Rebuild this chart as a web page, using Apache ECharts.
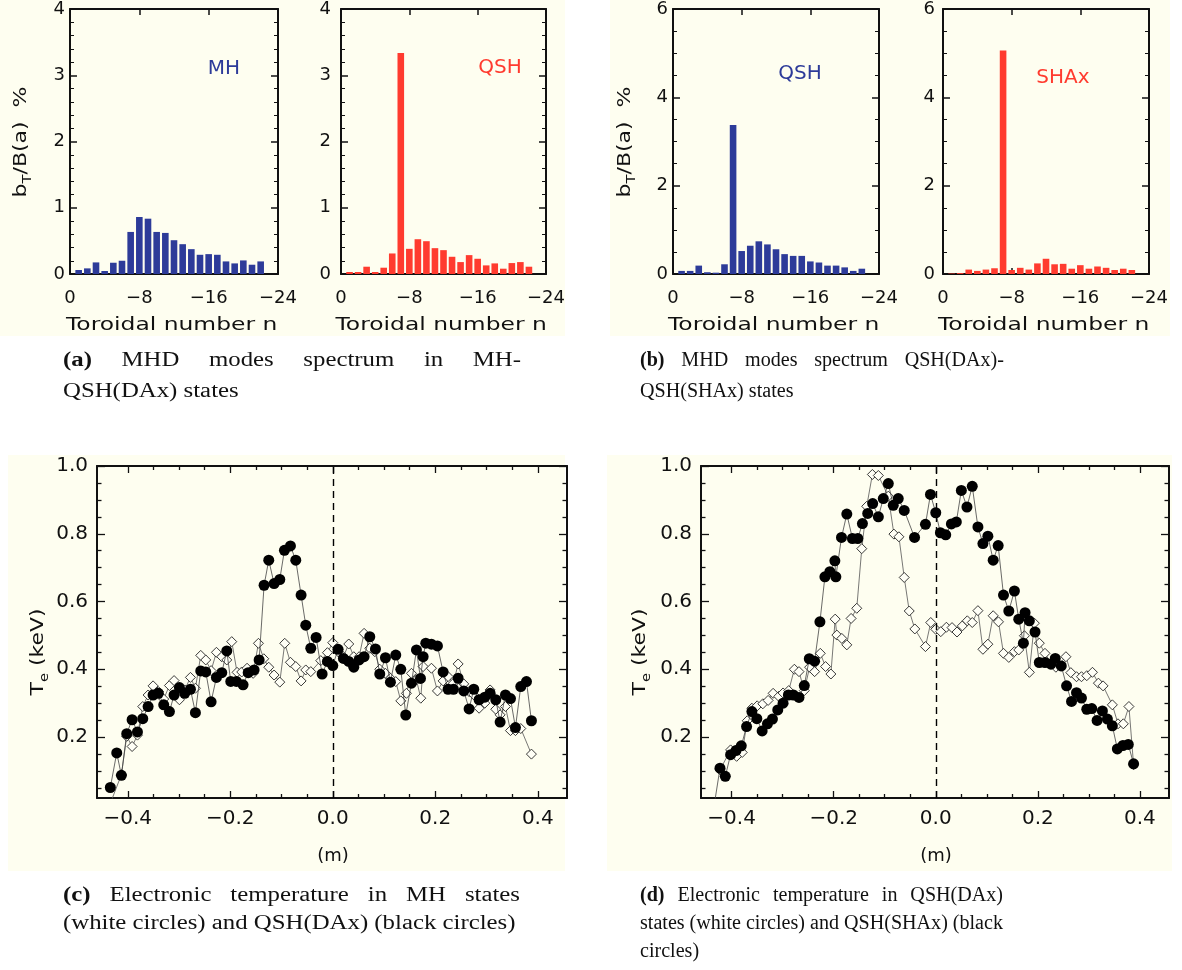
<!DOCTYPE html>
<html><head><meta charset="utf-8">
<script src="https://cdn.jsdelivr.net/npm/echarts@6/dist/echarts.min.js"></script>
<style>html,body{margin:0;padding:0;background:#fff}#c{width:1182px;height:970px}</style>
</head><body><div id="c"></div>
<script>
// ---------------- data ----------------
const modeN = [-1,-2,-3,-4,-5,-6,-7,-8,-9,-10,-11,-12,-13,-14,-15,-16,-17,-18,-19,-20,-21,-22];
const specMH   = [0.06,0.085,0.175,0.045,0.17,0.2,0.635,0.86,0.835,0.635,0.62,0.51,0.45,0.375,0.29,0.3,0.29,0.19,0.16,0.205,0.14,0.19];
const specQSHa = [0.03,0.03,0.11,0.03,0.095,0.31,3.335,0.38,0.525,0.495,0.39,0.36,0.26,0.18,0.285,0.23,0.13,0.16,0.08,0.165,0.18,0.11];
const specQSHb = [0.07,0.07,0.19,0.04,0.03,0.22,3.375,0.52,0.64,0.74,0.67,0.56,0.45,0.41,0.41,0.285,0.26,0.19,0.19,0.15,0.07,0.12];
const specSHAx = [0.01,0.02,0.1,0.07,0.1,0.13,5.06,0.09,0.14,0.1,0.24,0.345,0.22,0.23,0.12,0.2,0.12,0.17,0.14,0.09,0.12,0.09];
const barTicksX = [-24,-16,-8,0];

const teMH = [[-0.435,0.0],[-0.4124,0.089],[-0.402,0.202],[-0.3915,0.172],[-0.3811,0.2056],[-0.3707,0.29],[-0.3603,0.324],[-0.3506,0.351],[-0.3402,0.334],[-0.3298,0.312],[-0.3187,0.352],[-0.3096,0.3666],[-0.2992,0.31],[-0.2888,0.339],[-0.2777,0.376],[-0.268,0.344],[-0.2576,0.441],[-0.2478,0.4275],[-0.2374,0.396],[-0.227,0.45],[-0.2166,0.437],[-0.2068,0.4275],[-0.1971,0.4815],[-0.1867,0.391],[-0.1776,0.392],[-0.1672,0.403],[-0.1554,0.388],[-0.145,0.4766],[-0.1346,0.431],[-0.1249,0.406],[-0.1145,0.383],[-0.1034,0.362],[-0.0937,0.4766],[-0.0826,0.4206],[-0.0722,0.408],[-0.0618,0.3656],[-0.0527,0.398],[-0.0429,0.393],[-0.0234,0.4255],[-0.0104,0.449],[0.0,0.4785],[0.0104,0.452],[0.0208,0.437],[0.0312,0.4746],[0.041,0.437],[0.0514,0.437],[0.0611,0.506],[0.0722,0.462],[0.082,0.452],[0.0917,0.4],[0.1028,0.388],[0.1125,0.3735],[0.1229,0.3636],[0.1327,0.3067],[0.1437,0.329],[0.1535,0.388],[0.1633,0.3686],[0.1717,0.3146],[0.1763,0.408],[0.1925,0.403],[0.2042,0.336],[0.2153,0.3656],[0.225,0.3784],[0.2354,0.3588],[0.2446,0.4157],[0.2556,0.3568],[0.266,0.334],[0.2751,0.3244],[0.2855,0.285],[0.2966,0.3],[0.307,0.339],[0.318,0.282],[0.3265,0.2655],[0.3369,0.29],[0.3467,0.219],[0.3564,0.219],[0.3668,0.225],[0.3876,0.1496]];
const teDAxC = [[-0.434,0.051],[-0.4215,0.153],[-0.4124,0.087],[-0.402,0.21],[-0.3915,0.251],[-0.3811,0.215],[-0.3707,0.254],[-0.3603,0.29],[-0.3506,0.324],[-0.3402,0.329],[-0.3298,0.295],[-0.3187,0.275],[-0.3096,0.324],[-0.2992,0.346],[-0.2888,0.329],[-0.2777,0.341],[-0.268,0.272],[-0.2576,0.395],[-0.2478,0.392],[-0.2374,0.304],[-0.227,0.376],[-0.2166,0.39],[-0.2068,0.454],[-0.199,0.364],[-0.188,0.364],[-0.175,0.354],[-0.165,0.39],[-0.1535,0.398],[-0.1437,0.4275],[-0.134,0.648],[-0.1249,0.722],[-0.1145,0.653],[-0.1034,0.665],[-0.0943,0.751],[-0.0826,0.764],[-0.0722,0.722],[-0.0618,0.619],[-0.0527,0.53],[-0.0429,0.462],[-0.0325,0.494],[-0.0208,0.386],[-0.0104,0.423],[0.0,0.411],[0.0104,0.459],[0.0208,0.432],[0.0312,0.423],[0.041,0.406],[0.0514,0.4275],[0.0611,0.437],[0.0722,0.496],[0.0833,0.46],[0.0917,0.386],[0.1028,0.434],[0.1125,0.362],[0.1229,0.442],[0.1327,0.4],[0.1424,0.265],[0.1535,0.359],[0.1633,0.457],[0.1711,0.373],[0.1763,0.437],[0.1815,0.477],[0.1925,0.474],[0.2042,0.469],[0.2153,0.392],[0.225,0.341],[0.2354,0.341],[0.2446,0.3735],[0.2556,0.336],[0.266,0.283],[0.2751,0.341],[0.2855,0.31],[0.2966,0.3175],[0.307,0.329],[0.318,0.31],[0.3265,0.244],[0.3369,0.324],[0.3467,0.3136],[0.3564,0.228],[0.3668,0.349],[0.3779,0.3636],[0.3876,0.248]];
const teDAxD = [[-0.4228,0.103],[-0.402,0.162],[-0.3902,0.143],[-0.3792,0.1545],[-0.3694,0.248],[-0.3603,0.285],[-0.3499,0.292],[-0.3389,0.298],[-0.3285,0.308],[-0.3187,0.329],[-0.3076,0.32],[-0.2992,0.33],[-0.2881,0.337],[-0.2771,0.4],[-0.268,0.393],[-0.2576,0.337],[-0.2472,0.406],[-0.2374,0.393],[-0.2263,0.447],[-0.2159,0.408],[-0.2055,0.386],[-0.1971,0.548],[-0.1938,0.501],[-0.1841,0.491],[-0.1743,0.472],[-0.1659,0.55],[-0.1548,0.58],[-0.145,0.756],[-0.1353,0.881],[-0.1242,0.975],[-0.1125,0.972],[-0.093,0.911],[-0.082,0.799],[-0.0722,0.791],[-0.0618,0.671],[-0.052,0.572],[-0.041,0.519],[-0.0202,0.467],[-0.0098,0.538],[0.0,0.518],[0.0098,0.511],[0.0208,0.524],[0.0319,0.523],[0.0416,0.51],[0.052,0.528],[0.0618,0.543],[0.0715,0.538],[0.0826,0.573],[0.0924,0.459],[0.1021,0.474],[0.1125,0.558],[0.1229,0.54],[0.1327,0.447],[0.1431,0.435],[0.1541,0.452],[0.1626,0.457],[0.1737,0.499],[0.1834,0.391],[0.1932,0.536],[0.2029,0.477],[0.214,0.447],[0.2257,0.418],[0.2354,0.406],[0.255,0.437],[0.2647,0.39],[0.2758,0.378],[0.2855,0.378],[0.2959,0.381],[0.307,0.391],[0.3187,0.359],[0.3278,0.351],[0.346,0.295],[0.3571,0.239],[0.3675,0.239],[0.3785,0.29],[0.3876,0.118]];
const teSHAx = [[-0.434,0.0],[-0.4228,0.108],[-0.4124,0.084],[-0.402,0.148],[-0.3915,0.16],[-0.3811,0.174],[-0.3707,0.231],[-0.3603,0.275],[-0.3506,0.254],[-0.3402,0.218],[-0.3298,0.239],[-0.32,0.253],[-0.3096,0.28],[-0.2992,0.3],[-0.2888,0.324],[-0.279,0.324],[-0.268,0.317],[-0.2576,0.352],[-0.2478,0.431],[-0.2374,0.424],[-0.227,0.54],[-0.2172,0.673],[-0.2075,0.688],[-0.1977,0.72],[-0.1958,0.673],[-0.1847,0.789],[-0.1743,0.858],[-0.1633,0.786],[-0.1528,0.786],[-0.1437,0.83],[-0.1333,0.86],[-0.1236,0.889],[-0.1125,0.85],[-0.1028,0.904],[-0.093,0.948],[-0.0833,0.884],[-0.0735,0.904],[-0.0618,0.869],[-0.0416,0.789],[-0.0202,0.828],[-0.0104,0.916],[0.0,0.862],[0.0091,0.803],[0.0195,0.797],[0.0306,0.829],[0.0403,0.835],[0.0501,0.928],[0.0611,0.879],[0.0715,0.94],[0.0826,0.82],[0.0924,0.771],[0.1021,0.793],[0.1125,0.722],[0.1223,0.765],[0.1327,0.619],[0.1431,0.572],[0.1541,0.631],[0.1626,0.548],[0.1717,0.477],[0.175,0.567],[0.1834,0.543],[0.1945,0.51],[0.2029,0.42],[0.214,0.42],[0.2257,0.415],[0.2341,0.432],[0.2459,0.41],[0.2563,0.351],[0.266,0.305],[0.2758,0.331],[0.2855,0.315],[0.2959,0.282],[0.3057,0.284],[0.3161,0.249],[0.3265,0.277],[0.3363,0.253],[0.346,0.233],[0.3558,0.165],[0.3668,0.175],[0.3772,0.178],[0.3876,0.121]];

const teTicksX = [-0.4,-0.2,0,0.2,0.4];
const teMinorX = [-0.35,-0.3,-0.25,-0.15,-0.1,-0.05,0.05,0.1,0.15,0.25,0.3,0.35];
const teTicksY = [0.2,0.4,0.6,0.8,1.0];
const teMinorY = [0.05,0.1,0.15,0.25,0.3,0.35,0.45,0.5,0.55,0.65,0.7,0.75,0.85,0.9,0.95];

// ---------------- style ----------------
const CREAM = '#fefef0', BLUE = '#2d3b99', RED = '#ff3b2f', AX = '#111';
const SANS = '"DejaVu Sans"', SERIF = '"Liberation Serif"';
const XMIN = -0.46, XMAX = 0.457, YMIN = 0.02, YMAX = 1.0;

const chart = echarts.init(document.getElementById('c'), null, {renderer: 'canvas'});
const grids = [], xAxes = [], yAxes = [], series = [], graphics = [];

const fmtN = v => v === 0 ? '0' : '\u2212' + Math.abs(v);
const fmtX = v => (v < -1e-9 ? '\u2212' : '') + Math.abs(v).toFixed(1);
const fmtY = v => v.toFixed(1);

const barPanels = [
  {left:70,  width:208, ymax:4, yint:1, ysplit:5, ym:5,  vals:specMH,   color:BLUE},
  {left:341, width:205, ymax:4, yint:1, ysplit:5, ym:10, vals:specQSHa, color:RED},
  {left:673, width:206, ymax:6, yint:2, ysplit:4, ym:5,  vals:specQSHb, color:BLUE},
  {left:943, width:206, ymax:6, yint:2, ysplit:4, ym:8,  vals:specSHAx, color:RED}
];
barPanels.forEach((p, i) => {
  grids.push({left:p.left, top:7, width:p.width, height:267});
  const xb = xAxes.length;
  ['bottom','top'].forEach(pos => xAxes.push({
    type:'value', gridIndex:i, position:pos, min:barTicksX[0], max:barTicksX[3], interval:8, inverse:true,
    axisLine:{show:true, onZero:false, lineStyle:{color:AX, width:2}},
    axisTick:{show:true, inside:true, length:6, lineStyle:{color:AX, width:1.5}},
    axisLabel:{show:pos==='bottom', color:AX, fontFamily:SANS, fontSize:18, margin:15, formatter:fmtN, showMinLabel:true, showMaxLabel:true},
    splitLine:{show:false}
  }));
  const yb = yAxes.length;
  ['left','right'].forEach(pos => yAxes.push({
    type:'value', gridIndex:i, position:pos, min:0, max:p.ymax, interval:p.yint,
    axisLine:{show:true, onZero:false, lineStyle:{color:AX, width:2}},
    axisTick:{show:true, inside:true, length:7, lineStyle:{color:AX, width:1.5}},
    minorTick:{show:true, splitNumber:p.ysplit, length:4, lineStyle:{color:AX, width:1}},
    axisLabel:{show:pos==='left', color:AX, fontFamily:SANS, fontSize:18, margin:p.ym},
    splitLine:{show:false}, minorSplitLine:{show:false}
  }));
  series.push({type:'bar', xAxisIndex:xb, yAxisIndex:yb, barWidth:6.6, silent:true,
    itemStyle:{color:p.color}, data: modeN.map((n, k) => [n, p.vals[k]])});
});

function mkX(gi, pos, major, line) {
  return {type:'value', gridIndex:gi, position:pos, min:XMIN, max:XMAX,
    axisLine:{show:line, onZero:false, lineStyle:{color:AX, width:2}},
    axisTick:{show:true, inside:true, length:major?7:4, customValues: major?teTicksX:teMinorX, lineStyle:{color:AX, width:1.3}},
    axisLabel:{show: pos==='bottom' && major, customValues: teTicksX, formatter: fmtX, color:AX, fontFamily:SANS, fontSize:20, margin:11},
    splitLine:{show:false}};
}
function mkY(gi, pos, major, line) {
  return {type:'value', gridIndex:gi, position:pos, min:YMIN, max:YMAX,
    axisLine:{show:line, onZero:false, lineStyle:{color:AX, width:2}},
    axisTick:{show:true, inside:true, length:major?8:4.5, customValues: major?teTicksY:teMinorY, lineStyle:{color:AX, width:1.3}},
    axisLabel:{show: pos==='left' && major, customValues: teTicksY, formatter: fmtY, color:AX, fontFamily:SANS, fontSize:20, margin:9},
    splitLine:{show:false}};
}
const tePanels = [
  {left:97,  width:470, white:teMH,   black:teDAxC},
  {left:701, width:468, white:teDAxD, black:teSHAx}
];
tePanels.forEach(p => {
  const gi = grids.length;
  grids.push({left:p.left, top:466, width:p.width, height:332});
  const xd = xAxes.length;
  xAxes.push(mkX(gi,'bottom',true,true), mkX(gi,'bottom',false,false), mkX(gi,'top',true,true), mkX(gi,'top',false,false));
  const yd = yAxes.length;
  yAxes.push(mkY(gi,'left',true,true), mkY(gi,'left',false,false), mkY(gi,'right',true,true), mkY(gi,'right',false,false));
  series.push({type:'line', xAxisIndex:xd, yAxisIndex:yd, data:p.white, symbol:'diamond', symbolSize:10,
    showAllSymbol:true, clip:true, silent:true, z:3,
    lineStyle:{color:'#555', width:0.8}, itemStyle:{color:'#fffff6', borderColor:'#222', borderWidth:0.9},
    markLine:{silent:true, symbol:['none','none'], label:{show:false},
      lineStyle:{color:'#000', type:[7,5], width:1.4}, data:[{xAxis:0}]}});
  series.push({type:'line', xAxisIndex:xd, yAxisIndex:yd, data:p.black, symbol:'circle', symbolSize:11,
    showAllSymbol:true, clip:true, silent:true, z:4,
    lineStyle:{color:'#444', width:0.8}, itemStyle:{color:'#000'}});
});

// ---------------- graphics ----------------
function rect(x, y, w, h) { return {type:'rect', z:-100, silent:true, shape:{x, y, width:w, height:h}, style:{fill:CREAM}}; }
graphics.push(rect(0,0,565,336), rect(610,0,560,336), rect(8,455,557,416), rect(607,455,565,416));

function txt(x, y, text, o) {
  o = o || {};
  return {type:'text', x, y, rotation:o.rot||0, scaleX:o.sx||1, z:50, silent:true,
    style:{text, fill:o.color||AX, font:o.font, rich:o.rich,
      align:o.align||'center', verticalAlign:'middle', textAlign:o.align||'center', textVerticalAlign:'middle'}};
}
// panel labels
graphics.push(txt(224, 69, 'MH',   {font:'20px '+SANS, color:BLUE}));
graphics.push(txt(500, 68, 'QSH',  {font:'20px '+SANS, color:RED}));
graphics.push(txt(800, 74, 'QSH',  {font:'20px '+SANS, color:BLUE}));
graphics.push(txt(1063, 78, 'SHAx',{font:'20px '+SANS, color:RED}));
// x titles
[174, 443.5, 776, 1046].forEach(cx => graphics.push(txt(cx - 108, 325, 'Toroidal number n', {font:'18px '+SANS, sx:1.3, align:'left'})));
// y titles of spectra
const richB = {m:{fontSize:18, fontFamily:'DejaVu Sans', fill:AX, lineHeight:26},
               s:{fontSize:12, fontFamily:'DejaVu Sans', fill:AX, lineHeight:14, verticalAlign:'bottom'}};
[21, 625].forEach(x => graphics.push(txt(x, 142, '{m|b}{s|T}{m|/B(a)  %}', {rot:Math.PI/2, sx:1.22, rich:richB, font:'18px '+SANS})));
// Te titles
[38, 640].forEach(x => graphics.push(txt(x, 652, '{m|T}{s|e}{m| (keV)}', {rot:Math.PI/2, sx:1.22, rich:richB, font:'18px '+SANS})));
// (m)
[333, 936].forEach(x => graphics.push(txt(x, 856, '(m)', {font:'18px '+SANS})));

// captions (left column is horizontally wider in the reference)
const CAP = '20.5px ' + SERIF, CAPB = 'bold 20.5px ' + SERIF;
const SXL = 1.21, SXR = 0.98;
const mctx = document.createElement('canvas').getContext('2d');
function wid(t, f, sx) { mctx.font = f; return mctx.measureText(t).width * sx; }
function justify(words, x0, x1, y, boldFirst, sx) {
  const fonts = words.map((w, i) => (boldFirst && i === 0) ? CAPB : CAP);
  const ws = words.map((w, i) => wid(w, fonts[i], sx));
  const tot = ws.reduce((a, b) => a + b, 0);
  const gap = Math.max(3, (x1 - x0 - tot) / (words.length - 1));
  let x = x0;
  words.forEach((w, i) => { graphics.push(txt(x, y, w, {font:fonts[i], sx, align:'left'})); x += ws[i] + gap; });
}
function plain(words, x0, y, boldFirst, sx) {
  let x = x0; const sp = wid(' ', CAP, sx);
  words.forEach((w, i) => { const f = (boldFirst && i === 0) ? CAPB : CAP;
    graphics.push(txt(x, y, w, {font:f, sx, align:'left'})); x += wid(w, f, sx) + sp; });
}
justify(['(a)','MHD','modes','spectrum','in','MH-'], 63, 521, 361, true, SXL);
plain(['QSH(DAx)','states'], 63, 392, false, SXL);
justify(['(b)','MHD','modes','spectrum','QSH(DAx)-'], 640, 1004, 361, true, SXR);
plain(['QSH(SHAx)','states'], 640, 392, false, SXR);
justify(['(c)','Electronic','temperature','in','MH','states'], 63, 520, 896, true, SXL);
plain(['(white','circles)','and','QSH(DAx)','(black','circles)'], 63, 924, false, SXL);
justify(['(d)','Electronic','temperature','in','QSH(DAx)'], 640, 1003, 896, true, SXR);
justify(['states','(white','circles)','and','QSH(SHAx)','(black'], 640, 1003, 924, false, SXR);
plain(['circles)'], 640, 952, false, SXR);

chart.setOption({
  animation:false, backgroundColor:'#fff',
  grid:grids, xAxis:xAxes, yAxis:yAxes, series, graphic:{elements:graphics}
});
</script></body></html>
